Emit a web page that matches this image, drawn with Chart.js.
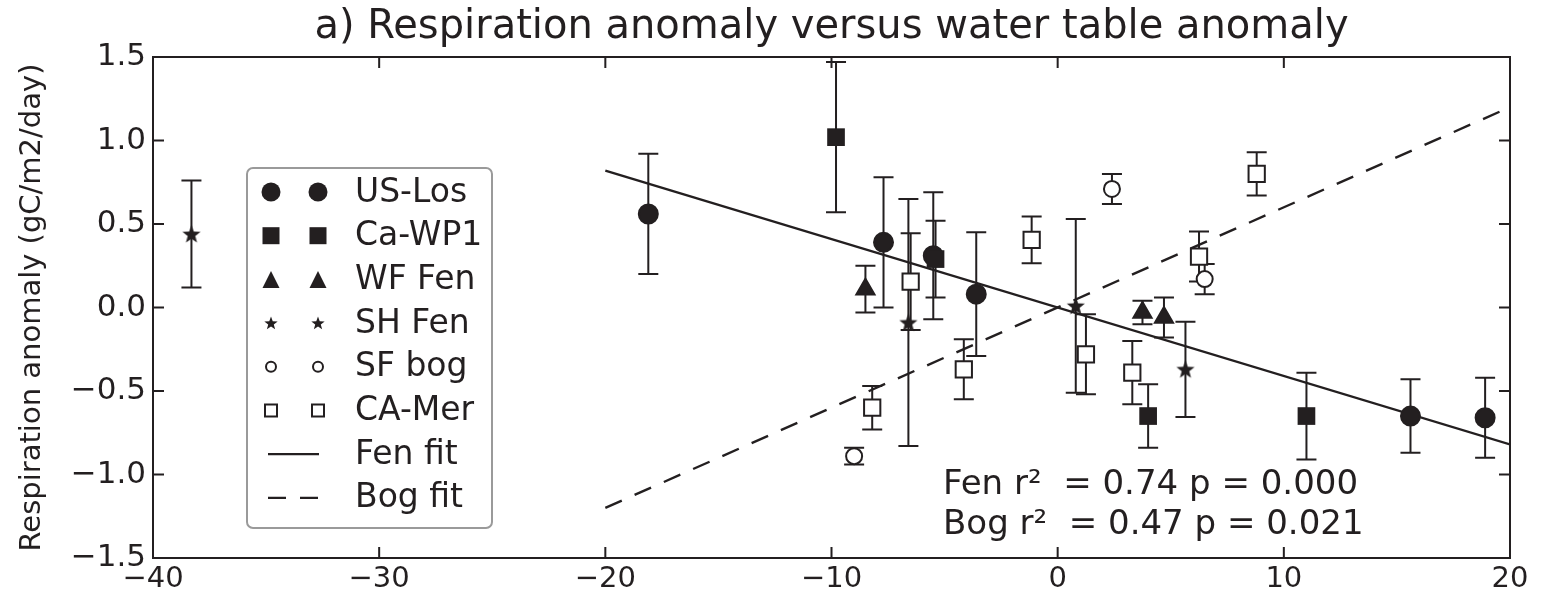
<!DOCTYPE html>
<html>
<head>
<meta charset="utf-8">
<script src="https://cdn.jsdelivr.net/npm/chart.js"></script>
<style>
    html, body { margin: 0; padding: 0; background: #fff; }
    #grafico { display: block; }
</style>
</head>
<body>
<canvas id="grafico" width="1543" height="596"></canvas>
<script>
// valores (x = anomalia do lençol, y = anomalia da respiração)
const xTicks = [-40, -30, -20, -10, 0, 10, 20];
const yTicks = [-1.5, -1.0, -0.5, 0.0, 0.5, 1.0, 1.5];

const usLosX = [-18.1, -7.7, -5.5, -3.6, 15.6, 18.9];
const usLosY = [0.56, 0.39, 0.31, 0.08, -0.65, -0.66];
const usLosErr = [0.36, 0.39, 0.38, 0.37, 0.22, 0.24];

const caWp1X = [-9.8, -5.4, 4.0, 11.0];
const caWp1Y = [1.02, 0.29, -0.65, -0.65];
const caWp1Err = [0.45, 0.23, 0.19, 0.26];

const wfFenX = [-8.5, 3.75, 4.7];
const wfFenY = [0.11, -0.03, -0.06];
const wfFenErr = [0.14, 0.07, 0.12];

const shFenX = [-38.3, -6.6, 0.8, 5.65];
const shFenY = [0.44, -0.09, 0.01, -0.37];
const shFenErr = [0.32, 0.74, 0.52, 0.285];

const sfBogX = [-9.0, 2.4, 6.5];
const sfBogY = [-0.89, 0.71, 0.17];
const sfBogErr = [0.05, 0.09, 0.09];

const caMerX = [-8.2, -6.5, -4.15, -1.15, 1.25, 3.3, 6.25, 8.8];
const caMerY = [-0.60, 0.155, -0.37, 0.405, -0.28, -0.39, 0.305, 0.80];
const caMerErr = [0.13, 0.29, 0.18, 0.14, 0.24, 0.19, 0.15, 0.13];

// retas ajustadas (pontas)
const fitX = [-20, 20];
const fenFitY = [0.82, -0.82];
const bogFitY = [-1.2, 1.2];

const corEscura = "#231f20";
const fonte = "'DejaVu Sans', sans-serif";

function pontos(xs, ys) {
    return xs.map((x, i) => ({ x: x, y: ys[i] }));
}

function menos(v) {
    return String(v).replace("-", "\u2212");
}

// estrela cheia de 5 pontas (o 'star' do Chart.js é um asterisco)
function desenharEstrela(ctx, cx, cy, r) {
    ctx.beginPath();
    for (let i = 0; i < 10; i++) {
        const rr = i % 2 === 0 ? r : r * 0.42;
        const a = -Math.PI / 2 + i * Math.PI / 5;
        ctx.lineTo(cx + rr * Math.cos(a), cy + rr * Math.sin(a));
    }
    ctx.closePath();
    ctx.fill();
}

const estrela = document.createElement("canvas");
estrela.width = 20;
estrela.height = 20;
const ctxEstrela = estrela.getContext("2d");
ctxEstrela.fillStyle = corEscura;
desenharEstrela(ctxEstrela, 10, 10.8, 9.5);

/* =======================
   PLUGINS
======================== */
const barrasErro = {
    id: "barrasErro",
    beforeDatasetsDraw(chart) {
        const ctx = chart.ctx;
        const sx = chart.scales.x;
        const sy = chart.scales.y;
        ctx.save();
        ctx.strokeStyle = corEscura;
        ctx.lineWidth = 2;
        chart.data.datasets.forEach(ds => {
            if (!ds.erros) return;
            ds.data.forEach((p, i) => {
                const px = sx.getPixelForValue(p.x);
                const topo = sy.getPixelForValue(p.y + ds.erros[i]);
                const base = sy.getPixelForValue(p.y - ds.erros[i]);
                ctx.beginPath();
                ctx.moveTo(px, topo); ctx.lineTo(px, base);
                ctx.moveTo(px - 10, topo); ctx.lineTo(px + 10, topo);
                ctx.moveTo(px - 10, base); ctx.lineTo(px + 10, base);
                ctx.stroke();
            });
        });
        ctx.restore();
    }
};

// moldura com ticks para dentro nos quatro lados (estilo matplotlib)
const moldura = {
    id: "moldura",
    afterDraw(chart) {
        const ctx = chart.ctx;
        const a = chart.chartArea;
        const sx = chart.scales.x;
        const sy = chart.scales.y;
        ctx.save();
        ctx.strokeStyle = corEscura;
        ctx.lineWidth = 2;
        ctx.strokeRect(a.left, a.top, a.right - a.left, a.bottom - a.top);
        ctx.beginPath();
        xTicks.forEach(v => {
            const px = sx.getPixelForValue(v);
            ctx.moveTo(px, a.bottom); ctx.lineTo(px, a.bottom - 11);
            ctx.moveTo(px, a.top); ctx.lineTo(px, a.top + 11);
        });
        yTicks.forEach(v => {
            const py = sy.getPixelForValue(v);
            ctx.moveTo(a.left, py); ctx.lineTo(a.left + 11, py);
            ctx.moveTo(a.right, py); ctx.lineTo(a.right - 11, py);
        });
        ctx.stroke();
        ctx.restore();
    }
};

function desenharMarcador(ctx, tipo, x, y, t) {
    ctx.fillStyle = corEscura;
    ctx.strokeStyle = corEscura;
    ctx.lineWidth = 2;
    ctx.beginPath();
    if (tipo === "circulo") {
        ctx.arc(x, y, t / 2, 0, Math.PI * 2);
        ctx.fill();
    } else if (tipo === "quadrado") {
        ctx.fillRect(x - t / 2, y - t / 2, t, t);
    } else if (tipo === "triangulo") {
        ctx.moveTo(x, y - t / 2);
        ctx.lineTo(x + t / 2, y + t / 2);
        ctx.lineTo(x - t / 2, y + t / 2);
        ctx.closePath();
        ctx.fill();
    } else if (tipo === "estrela") {
        desenharEstrela(ctx, x, y + 0.5, t / 2);
    } else if (tipo === "circuloAberto") {
        ctx.fillStyle = "#fff";
        ctx.arc(x, y, t / 2, 0, Math.PI * 2);
        ctx.fill();
        ctx.stroke();
    } else if (tipo === "quadradoAberto") {
        ctx.fillStyle = "#fff";
        ctx.fillRect(x - t / 2, y - t / 2, t, t);
        ctx.strokeRect(x - t / 2, y - t / 2, t, t);
    }
}

const itensLegenda = [
    { label: "US-Los", tipo: "circulo", t: 19 },
    { label: "Ca-WP1", tipo: "quadrado", t: 17 },
    { label: "WF Fen", tipo: "triangulo", t: 17 },
    { label: "SH Fen", tipo: "estrela", t: 14 },
    { label: "SF bog", tipo: "circuloAberto", t: 10 },
    { label: "CA-Mer", tipo: "quadradoAberto", t: 12 },
    { label: "Fen fit", tipo: "linha" },
    { label: "Bog fit", tipo: "tracejada" }
];

const legenda = {
    id: "legenda",
    afterDraw(chart) {
        const ctx = chart.ctx;
        const a = chart.chartArea;
        const esq = a.left + 94;
        const topo = a.top + 111;
        ctx.save();
        ctx.fillStyle = "#fff";
        ctx.strokeStyle = "#9a9a9a";
        ctx.lineWidth = 2;
        ctx.beginPath();
        ctx.roundRect(esq, topo, 245, 360, 6);
        ctx.fill();
        ctx.stroke();

        itensLegenda.forEach((item, i) => {
            const y = topo + 24 + i * 43.7;
            if (item.tipo === "linha" || item.tipo === "tracejada") {
                ctx.strokeStyle = corEscura;
                ctx.lineWidth = 2.2;
                ctx.setLineDash(item.tipo === "tracejada" ? [18, 14] : []);
                ctx.beginPath();
                ctx.moveTo(esq + 21, y);
                ctx.lineTo(esq + 72, y);
                ctx.stroke();
                ctx.setLineDash([]);
            } else {
                desenharMarcador(ctx, item.tipo, esq + 24, y, item.t);
                desenharMarcador(ctx, item.tipo, esq + 71, y, item.t);
            }
            ctx.fillStyle = corEscura;
            ctx.font = "33px " + fonte;
            ctx.textBaseline = "middle";
            ctx.textAlign = "left";
            ctx.fillText(item.label, esq + 108, y + 1);
        });
        ctx.restore();
    }
};

const textoAjuste = {
    id: "textoAjuste",
    afterDraw(chart) {
        const ctx = chart.ctx;
        const a = chart.chartArea;
        ctx.save();
        ctx.fillStyle = corEscura;
        ctx.font = "34px " + fonte;
        ctx.textAlign = "left";
        ctx.textBaseline = "alphabetic";
        ctx.fillText("Fen r\u00b2  = 0.74 p = 0.000", a.left + 790, a.top + 437);
        ctx.fillText("Bog r\u00b2  = 0.47 p = 0.021", a.left + 790, a.top + 477);
        ctx.restore();
    }
};

/* =======================
   GRÁFICO
======================== */
const marcador = { borderColor: corEscura, borderWidth: 2, backgroundColor: corEscura };

new Chart(document.getElementById("grafico"), {
    type: "scatter",
    data: {
        datasets: [
            { label: "US-Los", data: pontos(usLosX, usLosY), erros: usLosErr, pointStyle: "circle", pointRadius: 9.5, ...marcador, order: 2 },
            { label: "Ca-WP1", data: pontos(caWp1X, caWp1Y), erros: caWp1Err, pointStyle: "rect", pointRadius: 12.5, ...marcador, borderWidth: 0, order: 1 },
            { label: "WF Fen", data: pontos(wfFenX, wfFenY), erros: wfFenErr, pointStyle: "triangle", pointRadius: 10.5, ...marcador, order: 1 },
            { label: "SH Fen", data: pontos(shFenX, shFenY), erros: shFenErr, pointStyle: estrela, order: 1 },
            { label: "SF bog", data: pontos(sfBogX, sfBogY), erros: sfBogErr, pointStyle: "circle", pointRadius: 8, borderColor: corEscura, borderWidth: 2, backgroundColor: "#fff", order: 1 },
            { label: "CA-Mer", data: pontos(caMerX, caMerY), erros: caMerErr, pointStyle: "rect", pointRadius: 11.5, borderColor: corEscura, borderWidth: 2, backgroundColor: "#fff", order: 1 },
            { type: "line", label: "Fen fit", data: pontos(fitX, fenFitY), borderColor: corEscura, borderWidth: 2.4, pointRadius: 0, fill: false, order: 5 },
            { type: "line", label: "Bog fit", data: pontos(fitX, bogFitY), borderColor: corEscura, borderWidth: 2.4, borderDash: [18, 14], pointRadius: 0, fill: false, order: 5 }
        ]
    },
    options: {
        responsive: false,
        animation: false,
        devicePixelRatio: 1,
        layout: { padding: { left: 0, right: 33, top: 0, bottom: 0 } },
        plugins: {
            legend: { display: false },
            tooltip: { enabled: false },
            title: {
                display: true,
                fullSize: false,
                text: "a) Respiration anomaly versus water table anomaly",
                color: corEscura,
                font: { family: fonte, size: 40, weight: "normal" },
                padding: { top: 4, bottom: 5 }
            }
        },
        scales: {
            x: {
                type: "linear",
                min: -40,
                max: 20,
                afterFit(scale) { scale.height = 38; },
                afterBuildTicks(scale) { scale.ticks = xTicks.map(v => ({ value: v })); },
                grid: { display: false, drawTicks: false },
                border: { display: false },
                ticks: {
                    color: corEscura,
                    padding: 4,
                    maxRotation: 0,
                    font: { family: fonte, size: 29 },
                    callback: v => menos(v)
                }
            },
            y: {
                type: "linear",
                min: -1.5,
                max: 1.5,
                afterFit(scale) { scale.width = 153; },
                afterBuildTicks(scale) { scale.ticks = yTicks.map(v => ({ value: v })); },
                grid: { display: false, drawTicks: false },
                border: { display: false },
                ticks: {
                    color: corEscura,
                    padding: 7,
                    font: { family: fonte, size: 31 },
                    callback: v => menos(v.toFixed(1))
                },
                title: {
                    display: true,
                    text: "Respiration anomaly (gC/m2/day)",
                    color: corEscura,
                    font: { family: fonte, size: 29 },
                    padding: { top: 15, bottom: 0 }
                }
            }
        }
    },
    plugins: [barrasErro, moldura, legenda, textoAjuste]
});
</script>
</body>
</html>
